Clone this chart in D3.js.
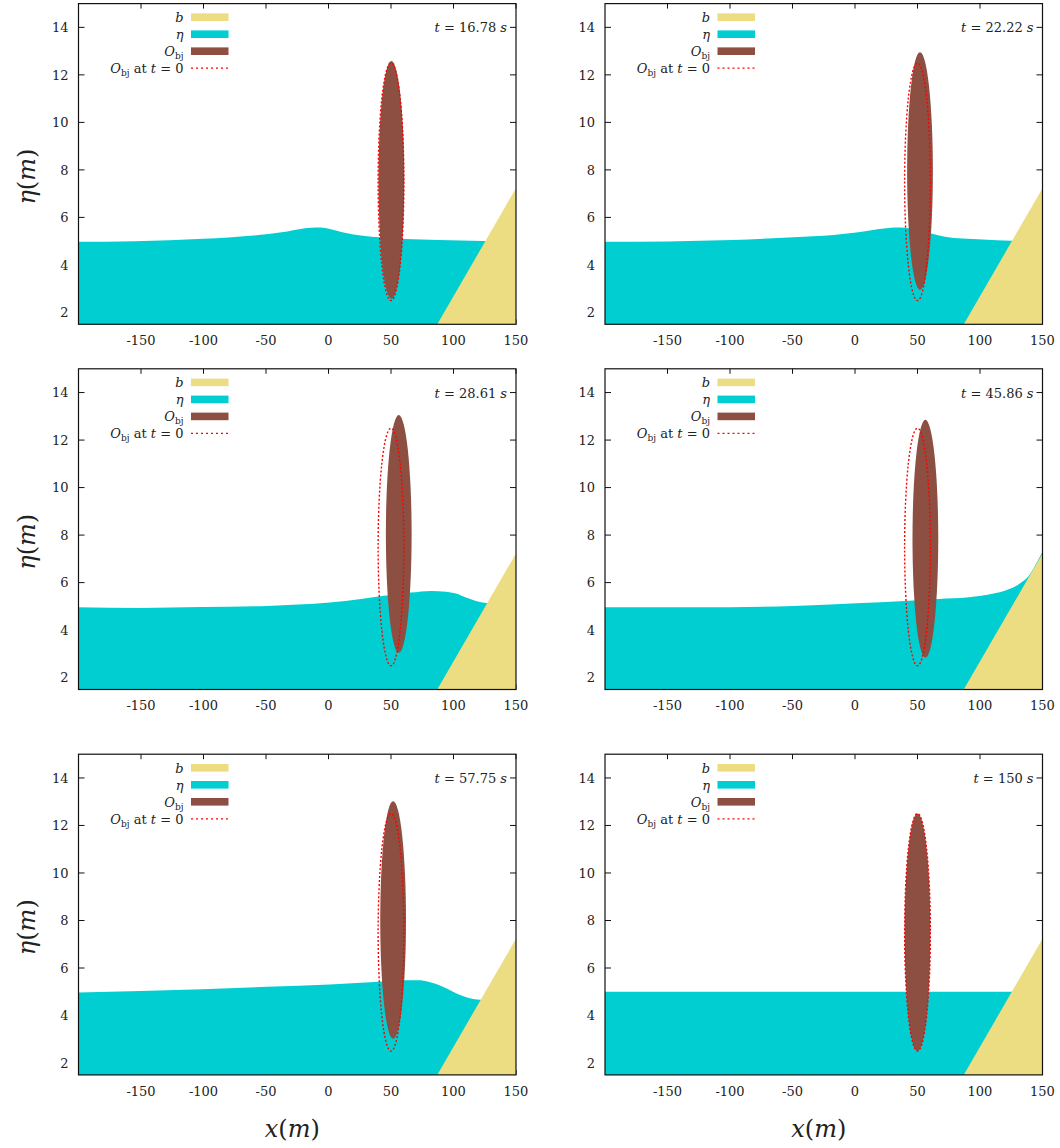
<!DOCTYPE html>
<html><head><meta charset="utf-8">
<script src="https://cdn.jsdelivr.net/npm/d3@7"></script>
<style>
body{margin:0;background:#fff}
svg{display:block}
</style>
</head><body>
<svg id="c" width="1060" height="1148"></svg>
<script>
// ---------- data ----------
const xTicks = [-150, -100, -50, 0, 50, 100, 150];
const yTicks = [2, 4, 6, 8, 10, 12, 14];
const timeLabels = ["16.78", "22.22", "28.61", "45.86", "57.75", "150"];
const bathymetry = [[-200, 0], [70.5, 0], [150, 7.23]];
const eta1 = [[-200,4.97],[-155,5.0],[-100,5.1],[-60,5.24],[-33,5.41],[-14,5.56],[-6,5.57],[1,5.51],[11,5.38],[29,5.22],[40,5.16],[61,5.09],[88,5.05],[124,5.01],[150,5.0]];
const eta2 = [[-200,4.97],[-150,4.99],[-98,5.05],[-49,5.16],[-17,5.26],[1,5.36],[18,5.5],[32,5.58],[40,5.56],[61,5.32],[72,5.19],[86,5.11],[102,5.07],[125,5.02],[150,5.0]];
const eta3 = [[-200,4.96],[-151,4.93],[-101,4.97],[-49,5.02],[1,5.16],[26,5.31],[40,5.41],[66,5.58],[82,5.65],[94,5.62],[102,5.54],[110,5.37],[118,5.23],[126,5.14],[140,5.06],[150,5.03]];
const eta4 = [[-200,4.96],[-100,4.96],[-49,5.02],[1,5.13],[40,5.23],[67,5.31],[91,5.38],[111,5.54],[121,5.68],[131,5.93],[140,6.35],[145,6.8],[150,7.3]];
const eta5 = [[-200,4.97],[-101,5.11],[-49,5.21],[1,5.31],[37,5.41],[61,5.48],[72,5.48],[80,5.42],[91,5.22],[102,4.94],[113,4.73],[121,4.66],[135,4.64],[150,4.64]];
const eta6 = [[-200,5.0],[150,5.0]];
const bodyCenterX = [50.3, 52, 56.2, 56.3, 51.7, 50];
const bodyCenterY = [7.58, 7.95, 8.05, 7.85, 8.02, 7.5];
const initialCenter = [50, 7.5];
const bodySemiAxes = [10.3, 5];
const xDomain = [-200, 150];
const yDomain = [1.5, 15];

const etas = [eta1, eta2, eta3, eta4, eta5, eta6];

// ---------- style / layout ----------
const FONT = "DejaVu Serif";
const C_BEACH = "#ecdc82", C_WATER = "#00ced1", C_BODY = "#8d4f41", C_INIT = "#ff0000";
const colLeft = [78.5, 605];
const rowTop = [3.6, 368.8, 754.2];
const plotW = 437.5, plotH = 320.7;
const FS = 13;

const svg = d3.select("#c");

function legendText(sel, kind) {
  if (kind === 0) { sel.append("tspan").attr("font-style", "italic").text("b"); return; }
  if (kind === 1) { sel.append("tspan").attr("font-style", "italic").text("η"); return; }
  sel.append("tspan").attr("font-style", "italic").text("O");
  sel.append("tspan").attr("font-size", 9).attr("dy", 3).text("bj");
  if (kind === 3) {
    sel.append("tspan").attr("dy", -3).text(" at ");
    sel.append("tspan").attr("font-style", "italic").text("t");
    sel.append("tspan").text(" = 0");
  }
}

function txt(sel) { return sel.append("text").attr("font-family", FONT).attr("fill", "#222"); }

etas.forEach((eta, i) => {
  const col = i % 2, row = Math.floor(i / 2);
  const g = svg.append("g").attr("transform", `translate(${colLeft[col]},${rowTop[row]})`);
  const x = d3.scaleLinear().domain(xDomain).range([0, plotW]);
  const y = d3.scaleLinear().domain(yDomain).range([plotH, 0]);

  const clipId = "clip" + i;
  g.append("clipPath").attr("id", clipId).append("rect").attr("width", plotW).attr("height", plotH);

  // ticks (inside, mirrored)
  const tk = g.append("g").attr("stroke", "#111").attr("stroke-width", 1);
  yTicks.forEach(v => {
    tk.append("line").attr("x1", 0).attr("x2", 6).attr("y1", y(v)).attr("y2", y(v));
    tk.append("line").attr("x1", plotW).attr("x2", plotW - 6).attr("y1", y(v)).attr("y2", y(v));
  });
  xTicks.forEach(v => {
    tk.append("line").attr("x1", x(v)).attr("x2", x(v)).attr("y1", 0).attr("y2", 5);
    tk.append("line").attr("x1", x(v)).attr("x2", x(v)).attr("y1", plotH).attr("y2", plotH - 5);
  });

  // tick labels
  xTicks.forEach(v => {
    txt(g).attr("x", x(v)).attr("y", plotH + 21).attr("text-anchor", "middle")
      .attr("font-size", FS).text(v);
  });
  yTicks.forEach(v => {
    txt(g).attr("x", -10).attr("y", y(v)).attr("dy", "0.36em").attr("text-anchor", "end")
      .attr("font-size", FS).text(v);
  });

  const pg = g.append("g").attr("clip-path", `url(#${clipId})`);
  // water
  const area = d3.area().x(d => x(d[0])).y0(y(yDomain[0])).y1(d => y(d[1])).curve(d3.curveMonotoneX);
  pg.append("path").datum(eta).attr("d", area).attr("fill", C_WATER);
  // beach
  const barea = d3.area().x(d => x(d[0])).y0(plotH + 10).y1(d => y(d[1]));
  pg.append("path").datum(bathymetry).attr("d", barea).attr("fill", C_BEACH);
  // body
  const cx = bodyCenterX[i], cy = bodyCenterY[i];
  pg.append("ellipse")
    .attr("cx", x(cx)).attr("cy", y(cy))
    .attr("rx", x(cx + bodySemiAxes[0]) - x(cx)).attr("ry", y(cy - bodySemiAxes[1]) - y(cy))
    .attr("fill", C_BODY);
  // initial body
  pg.append("ellipse")
    .attr("cx", x(initialCenter[0])).attr("cy", y(initialCenter[1]))
    .attr("rx", x(initialCenter[0] + bodySemiAxes[0]) - x(initialCenter[0]))
    .attr("ry", y(initialCenter[1] - bodySemiAxes[1]) - y(initialCenter[1]))
    .attr("fill", "none").attr("stroke", C_INIT).attr("stroke-width", 1.4)
    .attr("stroke-dasharray", "2,2");

  // legend
  const lg = g.append("g");
  const colors = [C_BEACH, C_WATER, C_BODY];
  [0, 1, 2, 3].forEach(k => {
    const cyL = 13.6 + 17 * k;
    const t = txt(lg).attr("x", 105).attr("y", cyL + 5).attr("text-anchor", "end").attr("font-size", FS);
    legendText(t, k);
    if (k < 3) {
      lg.append("rect").attr("x", 112.5).attr("y", cyL - 3.8).attr("width", 37.5).attr("height", 7.6).attr("fill", colors[k]);
    } else {
      lg.append("line").attr("x1", 112.5).attr("x2", 150).attr("y1", cyL).attr("y2", cyL)
        .attr("stroke", C_INIT).attr("stroke-width", 1.2).attr("stroke-dasharray", "2,3");
    }
  });

  // time label
  const tl = txt(g).attr("x", plotW - 9).attr("y", y(14) + 5).attr("text-anchor", "end").attr("font-size", FS);
  tl.append("tspan").attr("font-style", "italic").text("t");
  tl.append("tspan").text(" = " + timeLabels[i] + " ");
  tl.append("tspan").attr("font-style", "italic").text("s");

  // border
  g.append("rect").attr("width", plotW).attr("height", plotH).attr("fill", "none")
    .attr("stroke", "#111").attr("stroke-width", 1.2);

  // axis titles
  if (col === 0) {
    const yt = txt(svg).attr("transform", `translate(35,${rowTop[row] + 173}) rotate(-90)`)
      .attr("text-anchor", "middle").attr("font-size", 24);
    yt.append("tspan").attr("font-style", "italic").text("η");
    yt.append("tspan").text("(");
    yt.append("tspan").attr("font-style", "italic").text("m");
    yt.append("tspan").text(")");
  }
  if (row === 2) {
    const xt = txt(svg).attr("x", colLeft[col] + plotW / 2 - 5).attr("y", 1137)
      .attr("text-anchor", "middle").attr("font-size", 24);
    xt.append("tspan").attr("font-style", "italic").text("x");
    xt.append("tspan").text("(");
    xt.append("tspan").attr("font-style", "italic").text("m");
    xt.append("tspan").text(")");
  }
});
</script>
</body></html>
